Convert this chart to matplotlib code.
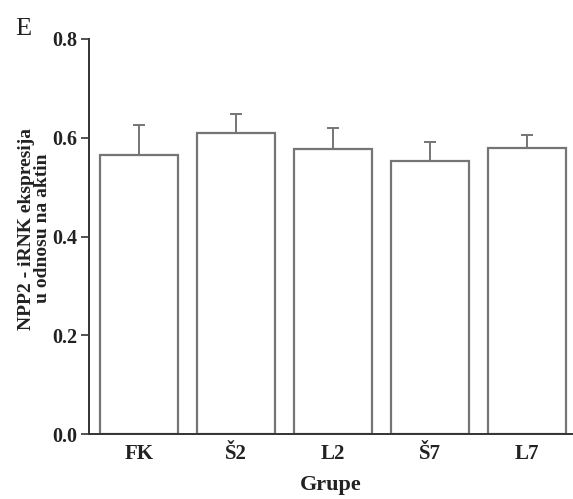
import matplotlib
matplotlib.use("Agg")
import matplotlib.pyplot as plt

groups = ["FK", "Š2", "L2", "Š7", "L7"]
means = [0.565, 0.610, 0.577, 0.552, 0.579]
errors = [0.061, 0.039, 0.042, 0.040, 0.027]
yticks = [0.0, 0.2, 0.4, 0.6, 0.8]

plt.rcParams['font.family'] = ['Liberation Serif', 'DejaVu Serif']

fig = plt.figure(figsize=(5.73, 4.99), dpi=100)
ax = fig.add_axes([0.155, 0.130, 0.843, 0.792])

x = list(range(len(groups)))
edge = '#757575'
ax.bar(x, means, width=0.8, color='white', edgecolor=edge, linewidth=1.6)
ax.errorbar(x, means, yerr=[[0]*len(errors), errors], fmt='none',
            ecolor=edge, elinewidth=1.4, capsize=4, capthick=1.4)

ax.set_ylim(0, 0.8)
ax.set_xlim(-0.515, 4.46)
ax.set_yticks(yticks)
ax.set_yticklabels([f"{t:.1f}" for t in yticks], fontsize=14.5, fontweight='bold', color='#222222')
ax.set_xticks(x)
ax.set_xticklabels(groups, fontsize=15, fontweight='bold', color='#222222')
ax.tick_params(axis='y', direction='out', length=6, width=1.2, color='#333333', pad=2)
ax.tick_params(axis='x', length=0, pad=7)

for s in ['top', 'right']:
    ax.spines[s].set_visible(False)
for s in ['left', 'bottom']:
    ax.spines[s].set_linewidth(1.4)
    ax.spines[s].set_color('#333333')

ax.set_xlabel("Grupe", fontsize=16, fontweight='bold', color='#222222', labelpad=8)
ax.set_ylabel("NPP2 - iRNK ekspresija\nu odnosu na aktin", fontsize=14, fontweight='bold',
              color='#222222', labelpad=1, linespacing=0.95)
ax.yaxis.label.set_y(0.52)
fig.text(0.026, 0.930, "E", fontsize=19, color='#222222', va='baseline')

fig.savefig("out.png", dpi=100)
